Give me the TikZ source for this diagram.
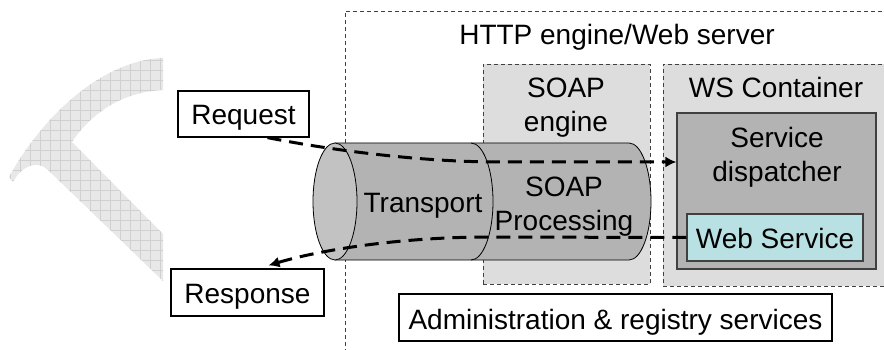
\documentclass[tikz,border=0pt]{standalone}
\usepackage{fontspec}
\setmainfont{Liberation Sans}
\usetikzlibrary{arrows.meta}

\definecolor{shellgray}{HTML}{DDDDDD}
\definecolor{pipegray}{HTML}{B3B3B3}
\definecolor{facegray}{HTML}{C2C2C2}
\definecolor{servicecyan}{HTML}{B9E1E4}
\definecolor{markgray}{HTML}{E8E8E8}
\definecolor{markline}{HTML}{D0D0D0}
\definecolor{edgegray}{HTML}{404040}

\tikzset{
  txt/.style={font=\fontsize{28}{34}\selectfont, inner sep=0pt},
  plainbox/.style={txt, draw, line width=1.2pt, fill=white, text height=22pt, text depth=0pt},
  groupbox/.style={draw=edgegray, line width=0.8pt, dash pattern=on 4pt off 3pt, fill=shellgray, inner sep=0pt},
  flow/.style={line width=3pt, dash pattern=on 14pt off 8pt, -{Latex[length=11pt,width=11pt]}},
}

\begin{document}
\begin{tikzpicture}[x=1pt, y=-1pt]

    \useasboundingbox (0,0) rectangle (884,350);
    \clip (0,0) rectangle (884,350);

    % watermark
    \begin{scope}
        \clip (9,177) .. controls (40,120) and (100,60) .. (163,58) -- (163,90)
              .. controls (120,92) and (90,115) .. (72,142) -- (163,234) -- (163,281)
              -- (48,170) .. controls (38,160) and (22,165) .. (13,182) -- cycle;
        \fill[markgray] (0,50) rectangle (170,290);
        \draw[markline, line width=0.6pt, step=10pt] (0,50) grid (170,290);
    \end{scope}

    % containers
    \draw[edgegray, line width=0.8pt, dash pattern=on 4pt off 3pt] (345,360) -- (345,11) -- (900,11);
    \node[txt, anchor=base] (httptitle) at (617,45) {HTTP engine/Web server};
    \node[groupbox, minimum width=167pt, minimum height=220pt] (soapengine) at (566.5,174) {};
    \node[groupbox, minimum width=240pt, minimum height=222pt] (wscontainer) at (783,175) {};
    \node[txt, anchor=base, align=center] (soaplabel) at (566,132) {SOAP\\engine}; % base = last line
    \node[txt, anchor=base] (wslabel) at (776,98) {WS Container};

    % pipe
    \fill[pipegray, draw=black, line width=0.8pt] (335,143) -- (629,143)
        arc[start angle=90, end angle=-90, x radius=22pt, y radius=58.5pt] -- (335,260) -- cycle;
    \draw[line width=0.8pt] (471,143)
        arc[start angle=90, end angle=-90, x radius=22pt, y radius=58.5pt];
    \filldraw[fill=facegray, line width=0.8pt] (335,201.5) ellipse[x radius=22pt, y radius=58.5pt];
    \node[txt, anchor=base] (transport) at (423,212) {Transport};
    \node[txt, anchor=base, align=center] (processing) at (564,230) {SOAP\\Processing};

    % service side
    \node[draw=edgegray, line width=1.2pt, fill=pipegray, minimum width=199pt, minimum height=156pt] (dispatcher) at (776.5,191) {};
    \node[txt, anchor=base, align=center] (dispatchlabel) at (777,182) {Service\\dispatcher};
    \node[plainbox, fill=servicecyan, draw=edgegray, minimum width=176pt, minimum height=47pt] (webservice) at (775,237.5) {Web Service};

    % outside boxes
    \node[plainbox, minimum width=131pt, minimum height=46pt] (request) at (243.5,114) {Request};
    \node[plainbox, minimum width=153pt, minimum height=47pt] (response) at (247.5,292.5) {Response};
    \node[plainbox, minimum width=433pt, minimum height=47pt, text height=24pt] (admin) at (615.5,317.5) {Administration \& registry services};

    % messages
    \draw[flow] ([xshift=24pt]request.south) .. controls (330,150) and (420,162) .. (500,162)
        -- ([yshift=29pt]dispatcher.west); % request -> dispatcher
    \draw[flow] (webservice.west) -- (490,237) .. controls (400,237) and (320,250)
        .. ([xshift=21pt,yshift=3pt]response.north); % web service -> response

\end{tikzpicture}
\end{document}
